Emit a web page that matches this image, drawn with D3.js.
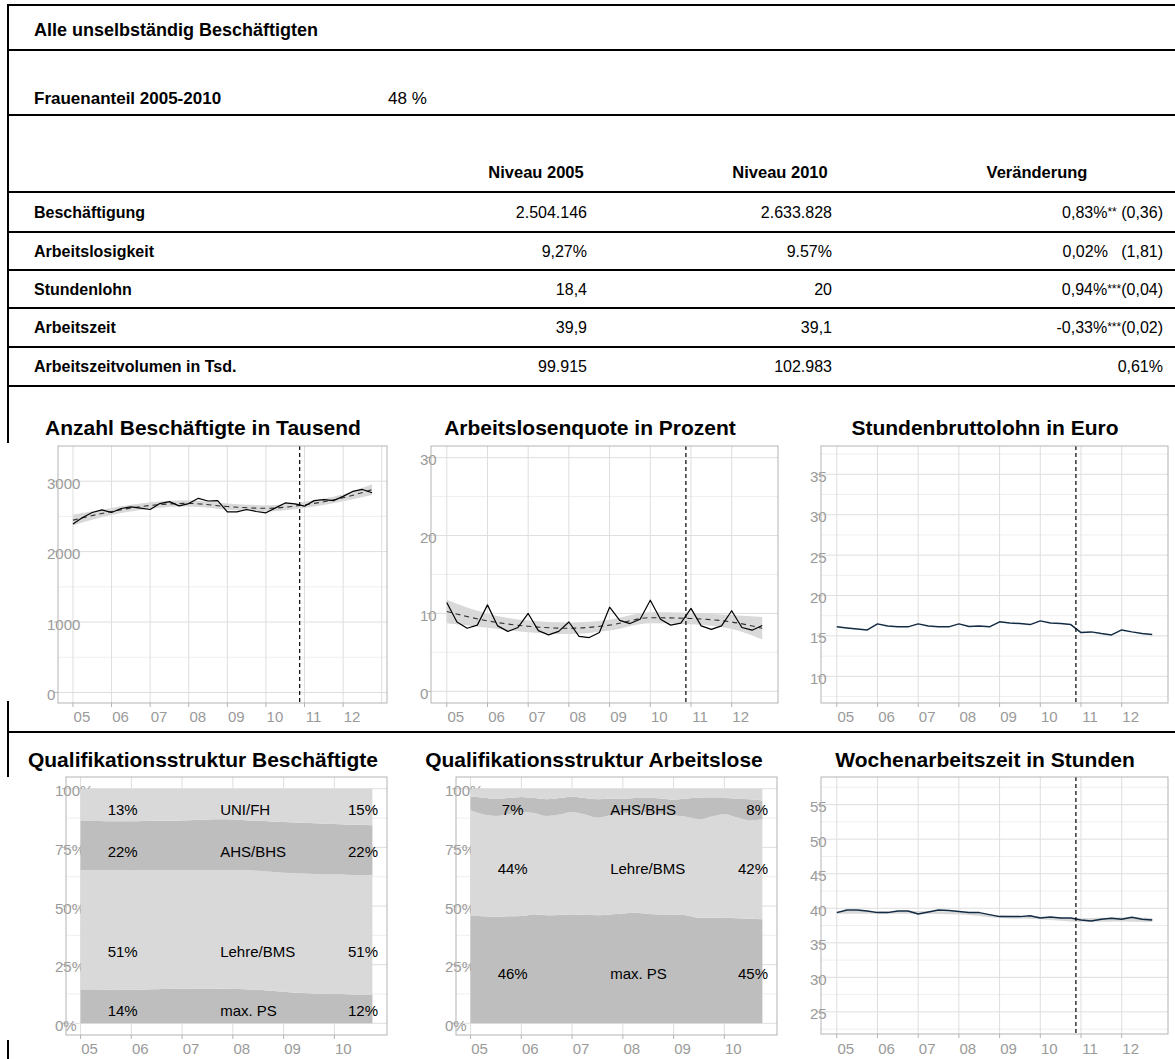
<!DOCTYPE html>
<html><head><meta charset="utf-8">
<script src="https://cdn.jsdelivr.net/npm/d3@7"></script>
<style>body{margin:0;background:#fff}svg{display:block;font-family:"Liberation Sans",Arial,sans-serif}</style>
</head><body><svg id="c" width="1175" height="1059"></svg>
<script>
// ---------- DATA ----------
const mainTitle = "Alle unselbständig Beschäftigten";
const shareLabel = "Frauenanteil 2005-2010";
const shareValue = "48 %";
const tableHeaders = ["Niveau 2005", "Niveau 2010", "Veränderung"];
const rowLabels = ["Beschäftigung", "Arbeitslosigkeit", "Stundenlohn", "Arbeitszeit", "Arbeitszeitvolumen in Tsd."];
const level2005 = ["2.504.146", "9,27%", "18,4", "39,9", "99.915"];
const level2010 = ["2.633.828", "9.57%", "20", "39,1", "102.983"];
const changes = ["0,83%** (0,36)", "0,02%   (1,81)", "0,94%***(0,04)", "-0,33%***(0,02)", "0,61%"];

const quarters = [2005.00,2005.25,2005.50,2005.75,2006.00,2006.25,2006.50,2006.75,2007.00,2007.25,2007.50,2007.75,
  2008.00,2008.25,2008.50,2008.75,2009.00,2009.25,2009.50,2009.75,2010.00,2010.25,2010.50,2010.75,
  2011.00,2011.25,2011.50,2011.75,2012.00,2012.25,2012.50,2012.75];
const yearTicks = [2005,2006,2007,2008,2009,2010,2011,2012];
const yearTickLabels = ["05","06","07","08","09","10","11","12"];
const stackYearTicks = [2005,2006,2007,2008,2009,2010];
const stackYearLabels = ["05","06","07","08","09","10"];
const breakYear = 2010.875;

const employment = [2392,2485,2556,2593,2556,2612,2635,2617,2598,2682,2710,2649,2682,2757,2719,2724,
  2565,2565,2598,2570,2551,2621,2691,2677,2645,2724,2738,2724,2785,2855,2883,2836];
const unemployment = [11.4,8.9,8.1,8.5,11.1,8.4,7.7,8.2,10.0,7.8,7.25,7.7,8.9,7.05,6.9,7.55,
  10.8,9.1,8.7,9.25,11.7,9.25,8.5,8.75,10.65,8.4,7.95,8.4,10.35,8.2,7.85,8.45];
const wage = [16.12,15.99,15.87,15.74,16.49,16.24,16.12,16.12,16.49,16.24,16.12,16.12,16.49,16.16,16.24,16.12,
  16.74,16.61,16.53,16.40,16.86,16.61,16.53,16.40,15.41,15.50,15.29,15.12,15.74,15.50,15.29,15.17];
const hours = [39.37,39.76,39.76,39.61,39.37,39.37,39.61,39.61,39.18,39.47,39.76,39.66,39.52,39.37,39.37,39.08,
  38.79,38.79,38.79,38.93,38.59,38.74,38.59,38.59,38.30,38.16,38.40,38.55,38.40,38.69,38.40,38.30];

const trendYears = [2005,2006,2007,2008,2009,2010,2011,2012,2012.75];
const employmentTrend = [2447,2570,2655,2685,2640,2615,2665,2765,2880];
const employmentBand = [75,50,45,45,45,45,45,50,75];
const unemploymentTrend = [10.25,9.05,8.35,8.1,8.5,9.45,9.35,8.9,8.1];
const unemploymentBand = [1.5,0.9,0.75,0.75,0.7,0.7,0.75,0.9,1.45];
const hoursTrend = [39.4,39.4,39.4,39.3,38.8,38.6,38.3,38.4,38.3];
const hoursBand = [0.2,0.2,0.2,0.2,0.2,0.2,0.25,0.3,0.3];

const stackQuarters = quarters.slice(0, 24);
const qualGroups = ["max. PS", "Lehre/BMS", "AHS/BHS", "UNI/FH"];
// shares of employed (percent)
const empMaxPS  = [14.2,14.2,14.3,14.4,14.3,14.4,14.5,14.6,14.7,14.8,14.8,14.7,14.6,14.5,14.3,13.9,13.4,13.0,12.8,12.6,12.5,12.4,12.3,12.3];
const empLehre  = [51.0,51.0,50.9,50.8,50.9,50.8,50.8,50.7,50.6,50.5,50.6,50.7,50.8,50.8,50.7,50.7,50.8,51.0,51.0,51.0,51.0,50.9,50.9,50.8];
const empAHS    = [21.0,21.0,20.9,20.9,20.9,21.0,21.0,21.1,21.2,21.4,21.5,21.6,21.5,21.3,21.3,21.4,21.6,21.6,21.6,21.6,21.5,21.5,21.4,21.3];
const empUNI    = [13.8,13.8,13.9,13.9,13.9,13.8,13.7,13.6,13.5,13.3,13.1,13.0,13.1,13.4,13.7,14.0,14.2,14.4,14.6,14.8,15.0,15.2,15.4,15.6];
// shares of unemployed (percent)
const unMaxPS   = [45.7,45.6,45.4,45.6,45.7,46.5,46.1,46.2,46.4,46.3,46.1,46.4,46.8,47.1,46.6,46.4,46.4,46.1,45.0,45.0,45.0,44.8,44.6,44.4];
const unLehre   = [45.1,43.5,43.0,43.5,44.4,43.2,42.3,42.8,43.7,42.7,41.6,42.3,42.6,43.0,43.1,42.7,42.3,41.9,42.0,43.2,44.1,42.9,41.9,42.6];
const unAHS     = [5.9,7.1,7.3,6.9,6.4,6.3,7.1,7.0,6.6,7.0,7.8,7.0,6.3,5.9,6.5,6.7,6.6,7.8,9.2,7.8,6.9,8.0,9.0,8.0];
const unUNI     = [3.3,3.8,4.3,4.0,3.5,4.0,4.5,4.0,3.3,4.0,4.5,4.3,4.3,4.0,3.8,4.2,4.7,4.2,3.8,4.0,4.0,4.3,4.5,5.0];

const empLabelY = [5.7, 31.2, 73.7, 91.5];            // max PS, Lehre, AHS, UNI
const empLabelsLeft = ["14%", "51%", "22%", "13%"];
const empLabelsMid = ["max. PS", "Lehre/BMS", "AHS/BHS", "UNI/FH"];
const empLabelsRight = ["12%", "51%", "22%", "15%"];
const unLabelY = [21.5, 66.6, 91.5];
const unLabelsLeft = ["46%", "44%", "7%"];
const unLabelsMid = ["max. PS", "Lehre/BMS", "AHS/BHS"];
const unLabelsRight = ["45%", "42%", "8%"];
const labelColumnsX = [2005.83, 2007.75, 2010.86];

const pctTicks = [0, 25, 50, 75, 100];
const pctTickLabels = ["0%", "25%", "50%", "75%", "100%"];

// ---------- DRAW ----------
const svg = d3.select("#c");
const GRID_MAJ = "#dedede", GRID_MIN = "#efefef", BORDER = "#b3b3b3", AXIS_TXT = "#9a9a9a";
const DARK = "#bebebe", LIGHT = "#d9d9d9";
const TABLE_FS = 16;

// table frame
const hLines = [5, 50, 115, 192, 232, 270, 308, 347, 386, 732];
hLines.forEach(y => svg.append("line").attr("x1", 8).attr("x2", 1175).attr("y1", y).attr("y2", y)
  .attr("stroke", "#000").attr("stroke-width", 2));
svg.append("line").attr("x1", 8).attr("x2", 8).attr("y1", 4).attr("y2", 1059).attr("stroke", "#000").attr("stroke-width", 2);

svg.append("text").attr("x", 34).attr("y", 36).attr("font-size", 18).attr("font-weight", "bold").text(mainTitle);
svg.append("text").attr("x", 34).attr("y", 104).attr("font-size", 17).attr("font-weight", "bold").text(shareLabel);
svg.append("text").attr("x", 388).attr("y", 104).attr("font-size", 17).text(shareValue);

const colCenters = [536, 780, 1037];
tableHeaders.forEach((h, i) => svg.append("text").attr("x", colCenters[i]).attr("y", 178)
  .attr("text-anchor", "middle").attr("font-size", 16.5).attr("font-weight", "bold").text(h));

const rowBase = [218, 257, 295, 333, 372];
const colRight = [587, 832, 1163];
rowLabels.forEach((r, i) => {
  svg.append("text").attr("x", 34).attr("y", rowBase[i]).attr("font-size", TABLE_FS).attr("font-weight", "bold").text(r);
  svg.append("text").attr("x", colRight[0]).attr("y", rowBase[i]).attr("text-anchor", "end").attr("font-size", TABLE_FS).text(level2005[i]);
  svg.append("text").attr("x", colRight[1]).attr("y", rowBase[i]).attr("text-anchor", "end").attr("font-size", TABLE_FS).text(level2010[i]);
  const t = svg.append("text").attr("x", colRight[2]).attr("y", rowBase[i]).attr("text-anchor", "end")
    .attr("font-size", TABLE_FS).style("white-space", "pre");
  changes[i].split(/(\*+)/).filter(s => s.length).forEach(part => {
    if (part[0] === "*") t.append("tspan").attr("font-size", 12).attr("baseline-shift", "2").text(part);
    else t.append("tspan").text(part);
  });
});

// white covers where chart images overlay the left border
svg.append("rect").attr("x", 0).attr("y", 443).attr("width", 20).attr("height", 258).attr("fill", "#fff");
svg.append("rect").attr("x", 0).attr("y", 777).attr("width", 20).attr("height", 263).attr("fill", "#fff");

function panelBase(g, p, x, y, xTicks, xLabels, yTicks, yMinor, yLabels, extraXGrid, labelY) {
  g.append("rect").attr("x", p.l).attr("y", p.t).attr("width", p.r - p.l).attr("height", p.b - p.t).attr("fill", "#fff");
  yMinor.forEach(v => g.append("line").attr("x1", p.l).attr("x2", p.r).attr("y1", y(v)).attr("y2", y(v))
    .attr("stroke", GRID_MIN).attr("stroke-width", 1));
  yTicks.forEach(v => g.append("line").attr("x1", p.l).attr("x2", p.r).attr("y1", y(v)).attr("y2", y(v))
    .attr("stroke", GRID_MAJ).attr("stroke-width", 1));
  xTicks.concat(extraXGrid).forEach(v => g.append("line").attr("x1", x(v)).attr("x2", x(v)).attr("y1", p.t).attr("y2", p.b)
    .attr("stroke", GRID_MAJ).attr("stroke-width", 1));
  xTicks.forEach(v => g.append("line").attr("x1", x(v)).attr("x2", x(v)).attr("y1", p.b).attr("y2", p.b + 4).attr("stroke", BORDER));
  yTicks.forEach(v => g.append("line").attr("x1", p.l - 4).attr("x2", p.l).attr("y1", y(v)).attr("y2", y(v)).attr("stroke", BORDER));
  xTicks.forEach((v, i) => g.append("text").attr("x", x(v) + 9).attr("y", labelY).attr("text-anchor", "middle")
    .attr("font-size", 15).attr("fill", AXIS_TXT).text(xLabels[i]));
  yTicks.forEach((v, i) => g.append("text").attr("x", p.l - 11).attr("y", y(v) + 2).attr("dominant-baseline", "central")
    .attr("font-size", 15).attr("fill", AXIS_TXT).text(yLabels[i]));
}

function lineChart(o) {
  const g = svg.append("g");
  const p = o.panel;
  const x = d3.scaleLinear().domain([2005 - 0.3875, 2012.75 + 0.3875]).range([p.l, p.r]);
  const y = d3.scaleLinear().domain(o.yDomain).range([p.b, p.t]);
  panelBase(g, p, x, y, yearTicks, yearTickLabels, o.yTicks, o.yMinor, o.yTicks.map(String), o.extraXGrid || [], o.labelY);
  if (o.band) {
    const bandPts = trendYears.map((t, i) => ({x: t, lo: o.center[i] - o.band[i], hi: o.center[i] + o.band[i]}));
    g.append("path").datum(bandPts).attr("fill", "#d9d9d9")
      .attr("d", d3.area().x(d => x(d.x)).y0(d => y(d.lo)).y1(d => y(d.hi)).curve(d3.curveMonotoneX));
  }
  if (o.trend) {
    g.append("path").datum(trendYears.map((t, i) => [t, o.trend[i]])).attr("fill", "none")
      .attr("stroke", "#333").attr("stroke-width", 1.1).attr("stroke-dasharray", "5,4")
      .attr("d", d3.line().x(d => x(d[0])).y(d => y(d[1])).curve(d3.curveMonotoneX));
  }
  g.append("path").datum(quarters.map((q, i) => [q, o.values[i]])).attr("fill", "none")
    .attr("stroke", o.color).attr("stroke-width", o.lw || 1.2).attr("stroke-linejoin", "round")
    .attr("d", d3.line().x(d => x(d[0])).y(d => y(d[1])));
  g.append("line").attr("x1", x(breakYear)).attr("x2", x(breakYear)).attr("y1", p.t).attr("y2", p.b)
    .attr("stroke", "#000").attr("stroke-width", 1.2).attr("stroke-dasharray", "4,3");
  g.append("rect").attr("x", p.l).attr("y", p.t).attr("width", p.r - p.l).attr("height", p.b - p.t)
    .attr("fill", "none").attr("stroke", BORDER).attr("stroke-width", 1);
  svg.append("text").attr("x", o.titleX).attr("y", o.titleY).attr("text-anchor", "middle")
    .attr("font-size", 21).attr("font-weight", "bold").text(o.title);
}

function stackChart(o) {
  const g = svg.append("g");
  const p = o.panel;
  const x = d3.scaleLinear().domain([2005 - 0.2875, 2010.75 + 0.2875]).range([p.l, p.r]);
  const y = d3.scaleLinear().domain([-5, 105]).range([p.b, p.t]);
  panelBase(g, p, x, y, stackYearTicks, stackYearLabels, pctTicks, [12.5, 37.5, 62.5, 87.5], pctTickLabels, [], o.labelY);
  const rows = stackQuarters.map((q, i) => {
    const r = {q};
    qualGroups.forEach((k, j) => r[k] = o.series[j][i]);
    return r;
  });
  const stacked = d3.stack().keys(qualGroups)(rows);
  const fills = [DARK, LIGHT, DARK, LIGHT];
  stacked.forEach((s, j) => g.append("path").datum(s).attr("fill", fills[j])
    .attr("d", d3.area().x(d => x(d.data.q)).y0(d => y(d[0])).y1(d => y(d[1])).curve(d3.curveMonotoneX)));
  g.append("rect").attr("x", p.l).attr("y", p.t).attr("width", p.r - p.l).attr("height", p.b - p.t)
    .attr("fill", "none").attr("stroke", BORDER).attr("stroke-width", 1);
  o.labelYs.forEach((ly, i) => {
    const yy = y(ly) + 1;
    g.append("text").attr("x", x(labelColumnsX[0])).attr("y", yy).attr("text-anchor", "middle").attr("dominant-baseline", "central").attr("font-size", 15).text(o.left[i]);
    g.append("text").attr("x", x(labelColumnsX[1])).attr("y", yy).attr("text-anchor", "start").attr("dominant-baseline", "central").attr("font-size", 15).text(o.mid[i]);
    g.append("text").attr("x", x(labelColumnsX[2])).attr("y", yy).attr("text-anchor", "end").attr("dominant-baseline", "central").attr("font-size", 15).text(o.right[i]);
  });
  svg.append("text").attr("x", o.titleX).attr("y", o.titleY).attr("text-anchor", "middle")
    .attr("font-size", 21).attr("font-weight", "bold").text(o.title);
}

lineChart({title: "Anzahl Beschäftigte in Tausend", titleX: 203, titleY: 435,
  panel: {l: 58, r: 387, t: 446, b: 703}, yDomain: [-150, 3500], yTicks: [0, 1000, 2000, 3000], yMinor: [500, 1500, 2500],
  values: employment, trend: employmentTrend, center: employmentTrend, band: employmentBand, color: "#000", labelY: 722, extraXGrid: [2013]});
lineChart({title: "Arbeitslosenquote in Prozent", titleX: 590, titleY: 435,
  panel: {l: 431, r: 778, t: 446, b: 703}, yDomain: [-1.5, 31.5], yTicks: [0, 10, 20, 30], yMinor: [5, 15, 25],
  values: unemployment, trend: unemploymentTrend, center: unemploymentTrend, band: unemploymentBand, color: "#000", labelY: 722});
lineChart({title: "Stundenbruttolohn in Euro", titleX: 985, titleY: 435,
  panel: {l: 821, r: 1168, t: 446, b: 703}, yDomain: [6.7, 38.5], yTicks: [10, 15, 20, 25, 30, 35], yMinor: [7.5, 12.5, 17.5, 22.5, 27.5, 32.5, 37.5],
  values: wage, color: "#132B43", lw: 1.5, labelY: 722});

stackChart({title: "Qualifikationsstruktur Beschäftigte", titleX: 203, titleY: 767,
  panel: {l: 66, r: 387, t: 777, b: 1035}, series: [empMaxPS, empLehre, empAHS, empUNI],
  labelYs: empLabelY, left: empLabelsLeft, mid: empLabelsMid, right: empLabelsRight, labelY: 1054});
stackChart({title: "Qualifikationsstruktur Arbeitslose", titleX: 594, titleY: 767,
  panel: {l: 456, r: 777, t: 777, b: 1035}, series: [unMaxPS, unLehre, unAHS, unUNI],
  labelYs: unLabelY, left: unLabelsLeft, mid: unLabelsMid, right: unLabelsRight, labelY: 1054});

lineChart({title: "Wochenarbeitszeit in Stunden", titleX: 985, titleY: 767,
  panel: {l: 821, r: 1168, t: 777, b: 1034}, yDomain: [21.8, 59], yTicks: [25, 30, 35, 40, 45, 50, 55], yMinor: [22.5, 27.5, 32.5, 37.5, 42.5, 47.5, 52.5, 57.5],
  values: hours, center: hoursTrend, band: hoursBand, color: "#132B43", lw: 1.5, labelY: 1054});
</script></body></html>
